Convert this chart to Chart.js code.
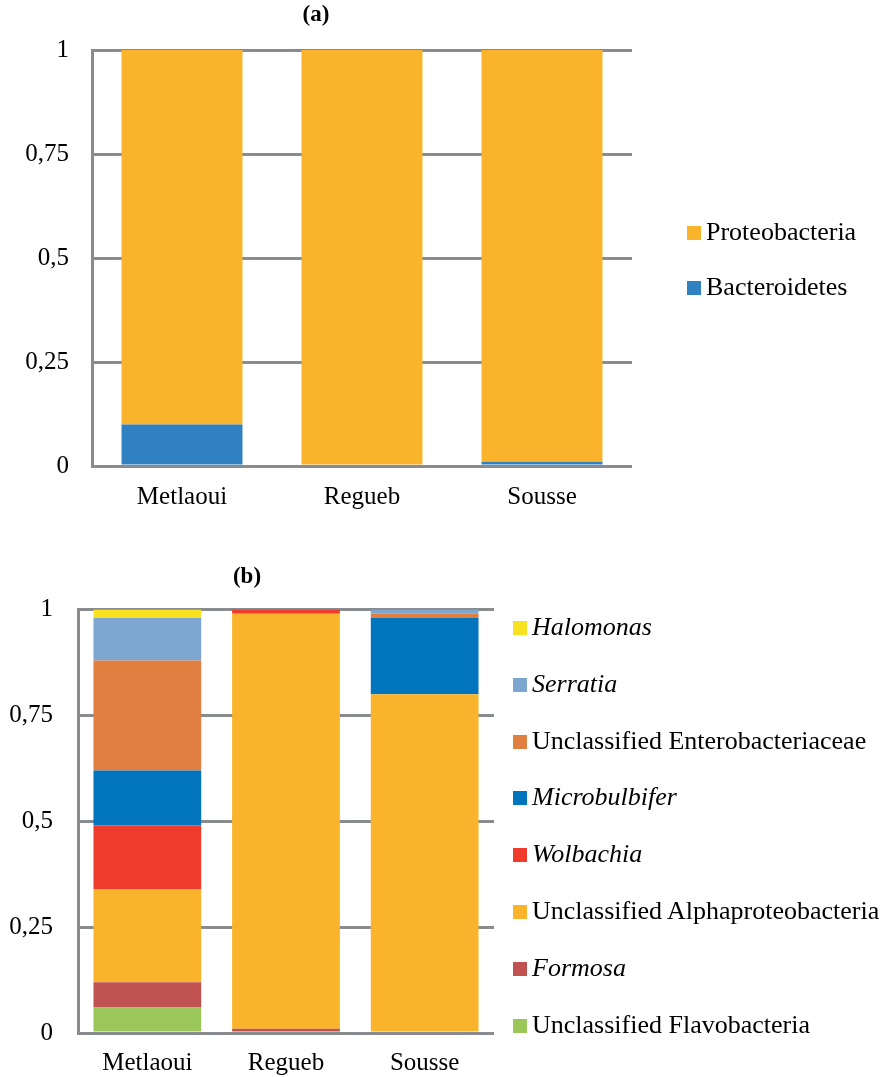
<!DOCTYPE html>
<html>
<head>
<meta charset="utf-8">
<script src="https://cdn.jsdelivr.net/npm/chart.js@4.4.1/dist/chart.umd.min.js"></script>
<style>
  html, body { margin: 0; padding: 0; background: #fff; }
  body { width: 884px; height: 1077px; position: relative; overflow: hidden;
         font-family: "Liberation Serif", "Times New Roman", serif; color: #000; }
  .panel { position: absolute; left: 0; width: 884px; }
  #panelA { top: 0; height: 530px; }
  #panelB { top: 530px; height: 547px; }
  .legend { position: absolute; left: 0; top: 0; margin: 0; padding: 0; list-style: none; font-size: 26px; }
  .legend li { position: absolute; white-space: nowrap; height: 30px; line-height: 30px; }
  .legend .sw { position: absolute; left: 0; top: 9px; width: 14px; height: 14px; }
  .legend .tx { position: absolute; left: 19px; top: 0; }
  .legend .it { font-style: italic; }
</style>
</head>
<body>
<div class="panel" id="panelA"><canvas id="chartA"></canvas></div>
<div class="panel" id="panelB"><canvas id="chartB"></canvas></div>
<ul class="legend" id="legendA"></ul>
<ul class="legend" id="legendB"></ul>
<script>
// Sampling sites
const categories = ['Metlaoui', 'Regueb', 'Sousse'];
const yTicks = [0, 0.25, 0.5, 0.75, 1];

// (a) relative abundance by phylum (stack order: bottom first)
const bacteroidetes = [0.10, 0.00, 0.01];
const proteobacteria = [0.90, 1.00, 0.99];

// (b) relative abundance by genus / unclassified group (stack order: bottom first)
const unclassifiedFlavobacteria = [0.06, 0.00, 0.00];
const formosa = [0.06, 0.01, 0.00];
const unclassifiedAlphaproteobacteria = [0.22, 0.98, 0.80];
const wolbachia = [0.15, 0.01, 0.00];
const microbulbifer = [0.13, 0.00, 0.18];
const unclassifiedEnterobacteriaceae = [0.26, 0.00, 0.01];
const serratia = [0.10, 0.00, 0.01];
const halomonas = [0.02, 0.00, 0.00];

// Genus names are set in italics in the legend
const italicTaxa = ['Halomonas', 'Serratia', 'Microbulbifer', 'Wolbachia', 'Formosa'];

const SERIF = '"Liberation Serif", "Times New Roman", serif';
const GRID = '#898c8e';

function fmtTick(v) { return String(v).replace('.', ','); }

function makeOptions(cfg) {
  return {
    responsive: true,
    maintainAspectRatio: false,
    animation: false,
    layout: { padding: { left: 0, right: cfg.padRight, top: 0, bottom: 0 } },
    plugins: {
      legend: { display: false },
      tooltip: { enabled: false },
      title: {
        display: true,
        text: cfg.title,
        color: '#000',
        font: { family: SERIF, size: 23, weight: 'bold', lineHeight: 1.2 },
        padding: cfg.titlePad
      }
    },
    scales: {
      x: {
        stacked: true,
        grid: { display: false, drawTicks: false },
        border: { display: false },
        ticks: { color: '#000', font: { family: SERIF, size: 25, lineHeight: 1.2 }, padding: cfg.xPad, maxRotation: 0 },
        afterFit: s => { s.height = cfg.xHeight; }
      },
      y: {
        stacked: true,
        min: 0,
        max: 1,
        grid: { color: GRID, lineWidth: 3, drawTicks: false },
        border: { display: true, color: GRID, width: 3 },
        ticks: { color: '#000', font: { family: SERIF, size: 25 }, padding: cfg.yPad, callback: fmtTick },
        afterBuildTicks: s => { s.ticks = yTicks.map(v => ({ value: v })); },
        afterFit: s => { s.width = cfg.yWidth; }
      }
    }
  };
}

function ds(label, data, color, barPct) {
  return { label, data, backgroundColor: color, borderWidth: 0, categoryPercentage: 1, barPercentage: barPct };
}

const chartA = new Chart(document.getElementById('chartA'), {
  type: 'bar',
  data: {
    labels: categories,
    datasets: [
      ds('Bacteroidetes', bacteroidetes, '#2f81c1', 0.672),
      ds('Proteobacteria', proteobacteria, '#f9b42b', 0.672)
    ]
  },
  options: makeOptions({
    title: '(a)', padRight: 252, titlePad: { top: 1.4, bottom: 21 },
    xHeight: 64, xPad: 16, yWidth: 92, yPad: 23
  })
});

const chartB = new Chart(document.getElementById('chartB'), {
  type: 'bar',
  data: {
    labels: categories,
    datasets: [
      ds('Unclassified Flavobacteria', unclassifiedFlavobacteria, '#9bc75a', 0.777),
      ds('Formosa', formosa, '#c05352', 0.777),
      ds('Unclassified Alphaproteobacteria', unclassifiedAlphaproteobacteria, '#f9b42b', 0.777),
      ds('Wolbachia', wolbachia, '#ee3b2b', 0.777),
      ds('Microbulbifer', microbulbifer, '#0075bd', 0.777),
      ds('Unclassified Enterobacteriaceae', unclassifiedEnterobacteriaceae, '#e07f3f', 0.777),
      ds('Serratia', serratia, '#7da7d1', 0.777),
      ds('Halomonas', halomonas, '#f8e11f', 0.777)
    ]
  },
  options: makeOptions({
    title: '(b)', padRight: 390, titlePad: { top: 33, bottom: 19 },
    xHeight: 44, xPad: 15, yWidth: 78, yPad: 25
  })
});

// Legends built from the charts' own legend items, top of stack listed first
function buildLegend(chart, listId, left, firstCenter, step) {
  const list = document.getElementById(listId);
  const items = Chart.defaults.plugins.legend.labels.generateLabels(chart).reverse();
  items.forEach((item, i) => {
    const li = document.createElement('li');
    li.style.left = left + 'px';
    li.style.top = (firstCenter + i * step - 15) + 'px';
    const sw = document.createElement('span');
    sw.className = 'sw';
    sw.style.background = item.fillStyle;
    const tx = document.createElement('span');
    tx.className = 'tx' + (italicTaxa.includes(item.text) ? ' it' : '');
    tx.textContent = item.text;
    li.appendChild(sw);
    li.appendChild(tx);
    list.appendChild(li);
  });
}
buildLegend(chartA, 'legendA', 687, 232, 55);
buildLegend(chartB, 'legendB', 513, 627, 56.8);
</script>
</body>
</html>
